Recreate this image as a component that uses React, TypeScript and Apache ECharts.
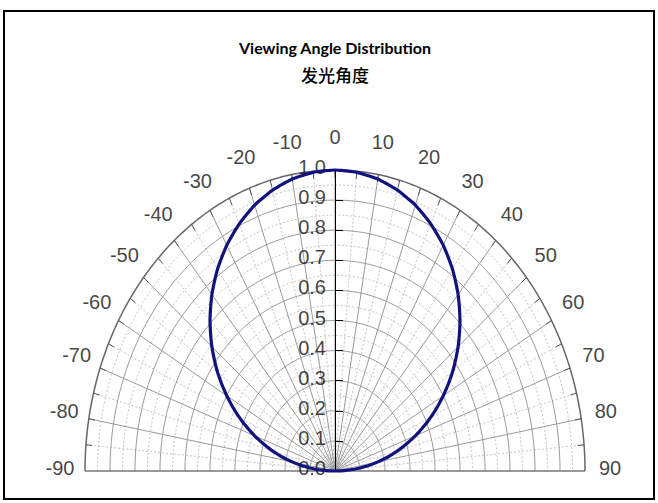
import React, { useEffect, useRef } from "react";
import * as echarts from "echarts";

const TITLE = "Viewing Angle Distribution";
const SUBTITLE = "发光角度";

const ANGLE_LABELS = [-90, -80, -70, -60, -50, -40, -30, -20, -10, 0, 10, 20, 30, 40, 50, 60, 70, 80, 90];
const RADIUS_LABELS = [0, 0.1, 0.2, 0.3, 0.4, 0.5, 0.6, 0.7, 0.8, 0.9, 1.0];
const MAJOR_SPOKES = [-80, -70, -60, -50, -40, -30, -20, -10, 0, 10, 20, 30, 40, 50, 60, 70, 80];
const MINOR_SPOKES = [-85, -75, -65, -55, -45, -35, -25, -15, -5, 5, 15, 25, 35, 45, 55, 65, 75, 85];
const OUTER_TICKS = [-85, -80, -75, -70, -65, -60, -55, -50, -45, -40, -35, -30, -25, -20, -15, -10, -5, 0, 5, 10, 15, 20, 25, 30, 35, 40, 45, 50, 55, 60, 65, 70, 75, 80, 85];
const MAJOR_RADII = [0.1, 0.2, 0.3, 0.4, 0.5, 0.6, 0.7, 0.8, 0.9];
const MINOR_RADII = [0.05, 0.15, 0.25, 0.35, 0.45, 0.55, 0.65, 0.75, 0.85, 0.95];

const CURVE_ANGLES = [-90, -85, -80, -75, -70, -65, -60, -55, -50, -45, -40, -35, -30, -25, -20, -15, -10, -5, 0, 5, 10, 15, 20, 25, 30, 35, 40, 45, 50, 55, 60, 65, 70, 75, 80, 85, 90];
const CURVE_VALUES = [0.0, 0.087, 0.174, 0.259, 0.342, 0.423, 0.5, 0.574, 0.643, 0.707, 0.766, 0.819, 0.866, 0.906, 0.94, 0.966, 0.985, 0.996, 1.0, 0.996, 0.985, 0.966, 0.94, 0.906, 0.866, 0.819, 0.766, 0.707, 0.643, 0.574, 0.5, 0.423, 0.342, 0.259, 0.174, 0.087, 0.0];

const LABEL_RADIUS = 1.1;
const rad = (a: number) => (a * Math.PI) / 180;
const toXY = (a: number, r: number) => [r * Math.sin(rad(a)), r * Math.cos(rad(a))];

function arcItem(stroke: string, lineWidth: number, dash: number[] | null) {
  return (params: any, api: any) => {
    const r = api.value(0);
    const pts: number[][] = [];
    for (let a = -90; a <= 90; a += 1) pts.push(api.coord(toXY(a, r)));
    return {
      type: "polyline",
      shape: { points: pts },
      style: { stroke, lineWidth, fill: null, lineDash: dash || undefined },
    };
  };
}

function spokeItem(stroke: string, lineWidth: number, dash: number[] | null, r0: number, r1: number) {
  return (params: any, api: any) => {
    const a = api.value(0);
    const p0 = api.coord(toXY(a, r0));
    const p1 = api.coord(toXY(a, r1));
    return {
      type: "line",
      shape: { x1: p0[0], y1: p0[1], x2: p1[0], y2: p1[1] },
      style: { stroke, lineWidth, lineDash: dash || undefined },
    };
  };
}

function curveItem(params: any, api: any) {
  const pts: number[][] = [];
  for (let i = 0; i < CURVE_ANGLES.length - 1; i++) {
    const a0 = CURVE_ANGLES[i];
    const a1 = CURVE_ANGLES[i + 1];
    const v0 = CURVE_VALUES[i];
    const v1 = CURVE_VALUES[i + 1];
    for (let k = 0; k < 5; k++) {
      const t = k / 5;
      pts.push(api.coord(toXY(a0 + (a1 - a0) * t, v0 + (v1 - v0) * t)));
    }
  }
  const last = CURVE_ANGLES.length - 1;
  pts.push(api.coord(toXY(CURVE_ANGLES[last], CURVE_VALUES[last])));
  return {
    type: "polyline",
    shape: { points: pts, smooth: 0.2 },
    style: { stroke: "#12127f", lineWidth: 3.2, fill: null, lineJoin: "round" },
  };
}

export default function App() {
  const ref = useRef<HTMLDivElement>(null);
  useEffect(() => {
    const chart = echarts.init(ref.current!, null, { renderer: "svg" });
    const option: any = {
      animation: false,
      backgroundColor: "#ffffff",
      grid: { left: 85, top: 170, width: 500, height: 301 },
      xAxis: { type: "value", min: -1, max: 1, show: false },
      yAxis: {
        type: "value",
        min: 0,
        max: 1,
        interval: 0.1,
        z: 3,
        axisLine: { show: true, onZero: true, lineStyle: { color: "#000", width: 1 } },
        axisTick: { show: true, inside: true, length: 8, lineStyle: { color: "#000" } },
        axisLabel: { show: false },
        splitLine: { show: false },
      },
      graphic: [
        {
          type: "rect",
          shape: { x: 4, y: 11, width: 650, height: 488 },
          style: { fill: null, stroke: "#000", lineWidth: 2 },
          z: 10,
        },
        {
          type: "text",
          x: 335,
          y: 47,
          style: {
            text: TITLE,
            font: "bold 16px Lato",
            fill: "#000",
            textAlign: "center",
            textVerticalAlign: "middle",
          },
        },
        {
          type: "text",
          x: 335,
          y: 74,
          style: {
            text: SUBTITLE,
            font: "500 17px 'Noto Sans CJK SC'",
            fill: "#000",
            textAlign: "center",
            textVerticalAlign: "middle",
          },
        },
      ],
      series: [
        {
          type: "custom",
          z: 1,
          data: MINOR_RADII.map((r) => [r, 0]),
          renderItem: arcItem("#c4c4c4", 1, [2, 2]),
          silent: true,
        },
        {
          type: "custom",
          z: 1,
          data: MINOR_SPOKES.map((a) => [a, 0]),
          renderItem: spokeItem("#c4c4c4", 1, [2, 2], 0, 1),
          silent: true,
        },
        {
          type: "custom",
          z: 1,
          data: MAJOR_RADII.map((r) => [r, 0]),
          renderItem: arcItem("#9a9a9a", 1, null),
          silent: true,
        },
        {
          type: "custom",
          z: 1,
          data: MAJOR_SPOKES.map((a) => [a, 0]),
          renderItem: spokeItem("#9a9a9a", 1, null, 0, 1),
          silent: true,
        },
        {
          type: "custom",
          z: 1,
          data: [[-90, 0], [90, 0]],
          renderItem: spokeItem("#777", 1.5, null, 0, 1),
          silent: true,
        },
        {
          type: "custom",
          z: 1,
          data: [[1, 0]],
          renderItem: arcItem("#666", 1.5, null),
          silent: true,
        },
        {
          type: "custom",
          z: 1,
          data: OUTER_TICKS.map((a) => [a, 0]),
          renderItem: spokeItem("#555", 1, null, 0.975, 1),
          silent: true,
        },
        {
          type: "scatter",
          z: 4,
          clip: false,
          symbolSize: 0,
          silent: true,
          data: ANGLE_LABELS.map((a) => {
            const p = toXY(a, LABEL_RADIUS);
            return { value: [p[0], p[1]], name: String(a) };
          }),
          label: {
            show: true,
            position: "inside",
            offset: [0, -3],
            formatter: (p: any) => p.name,
            fontSize: 20,
            fontFamily: "Liberation Sans",
            color: "#111",
          },
        },
        {
          type: "scatter",
          z: 4,
          clip: false,
          symbolSize: 0,
          silent: true,
          data: RADIUS_LABELS.map((r) => ({ value: [0, r], name: r.toFixed(1) })),
          label: {
            show: true,
            position: "left",
            distance: 9,
            offset: [0, -3],
            formatter: (p: any) => p.name,
            fontSize: 20,
            fontFamily: "Liberation Sans",
            color: "#111",
          },
        },
        {
          type: "custom",
          z: 5,
          data: [[0, 0]],
          renderItem: curveItem,
          silent: true,
        },
      ],
    };
    chart.setOption(option);
    return () => chart.dispose();
  }, []);
  return (
    <div
      ref={ref}
      style={{ position: "absolute", left: 0, top: 0, width: 658, height: 503, background: "#fff" }}
    />
  );
}
